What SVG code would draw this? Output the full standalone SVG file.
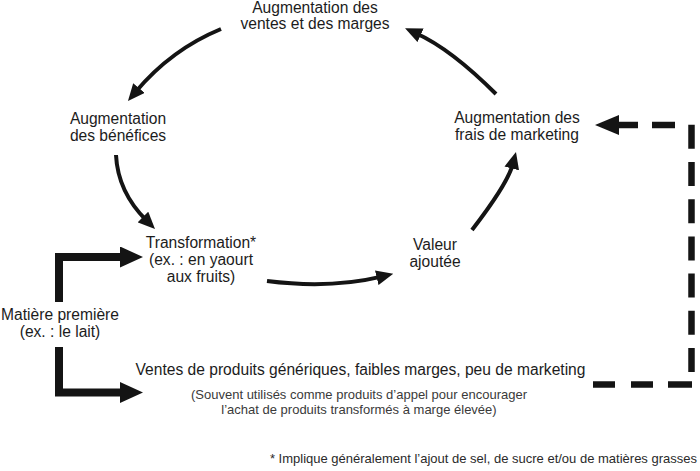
<svg xmlns="http://www.w3.org/2000/svg" width="700" height="471" viewBox="0 0 700 471">
<style>
.t{font-family:"Liberation Sans",Arial,Helvetica,sans-serif;font-size:15.6px;fill:#1c1c1c;text-anchor:middle}
.s{font-family:"Liberation Sans",Arial,Helvetica,sans-serif;font-size:13px;fill:#3a3a3a;text-anchor:middle}
.f{font-family:"Liberation Sans",Arial,Helvetica,sans-serif;font-size:13px;fill:#2a2a2a;text-anchor:end}
.c{fill:none;stroke:#141414;stroke-width:4;marker-end:url(#ah)}
.e{fill:none;stroke:#141414;stroke-width:8;stroke-linejoin:miter;marker-end:url(#ahB)}
.d{fill:none;stroke:#141414;stroke-width:6.5}
</style>
<defs>
<marker id="ah" markerUnits="userSpaceOnUse" markerWidth="17" markerHeight="15" viewBox="0 0 17 15" refX="5" refY="7.5" orient="auto"><path d="M0,0 L17,7.5 L0,15 z" fill="#141414"/></marker>
<marker id="ahB" markerUnits="userSpaceOnUse" markerWidth="23" markerHeight="21" viewBox="0 0 23 21" refX="5" refY="10.5" orient="auto"><path d="M0,0 L23,10.5 L0,21 z" fill="#141414"/></marker>
<marker id="ahD" markerUnits="userSpaceOnUse" markerWidth="24" markerHeight="20" viewBox="0 0 24 20" refX="5" refY="10" orient="auto"><path d="M0,0 L24,10 L0,20 z" fill="#141414"/></marker>
</defs>
<rect width="700" height="471" fill="#ffffff"/>
<g id="connectors">
<path class="c" d="M221,29 Q171.4,49.4 135.7,91.8"/>
<path class="c" d="M116,155 Q117.8,191.9 146.5,220.5"/>
<path class="c" d="M267,281 Q330,289 381.6,276.6"/>
<path class="c" d="M472,230 Q507.9,183.5 513,163.6"/>
<path class="c" d="M496,94 Q450.9,48.9 416,33.2"/>
<path class="e" d="M59,302 V257 H125"/>
<path class="e" d="M59,347 V392.5 H125"/>
<path class="d" d="M593,384.5 H615 M631,384.5 H653 M668,384.5 H692"/>
<path class="d" d="M691.5,372 V123" stroke-dasharray="24 13.2"/>
<path class="d" d="M675,125 H652"/>
<path class="d" d="M638,125 H614" marker-end="url(#ahD)"/>
</g>
<g id="n-ventes-marges"><text class="t" x="315" y="12.5">Augmentation des</text><text class="t" x="315" y="29">ventes et des marges</text></g>
<g id="n-benefices"><text class="t" x="118" y="124">Augmentation</text><text class="t" x="118" y="141">des bénéfices</text></g>
<g id="n-marketing"><text class="t" x="517" y="123">Augmentation des</text><text class="t" x="517" y="140">frais de marketing</text></g>
<g id="n-transformation"><text class="t" x="201" y="248">Transformation*</text><text class="t" x="201" y="265">(ex. : en yaourt</text><text class="t" x="201" y="282">aux fruits)</text></g>
<g id="n-valeur"><text class="t" x="435" y="250">Valeur</text><text class="t" x="435" y="267">ajoutée</text></g>
<g id="n-matiere"><text class="t" x="60" y="320">Matière première</text><text class="t" x="60" y="337">(ex. : le lait)</text></g>
<g id="n-generiques"><text class="t" x="360.5" y="375">Ventes de produits génériques, faibles marges, peu de marketing</text>
<text class="s" x="359" y="399">(Souvent utilisés comme produits d’appel pour encourager</text>
<text class="s" x="359" y="414">l’achat de produits transformés à marge élevée)</text></g>
<g id="footnote"><text class="f" x="697" y="463">* Implique généralement l’ajout de sel, de sucre et/ou de matières grasses</text></g>
</svg>
